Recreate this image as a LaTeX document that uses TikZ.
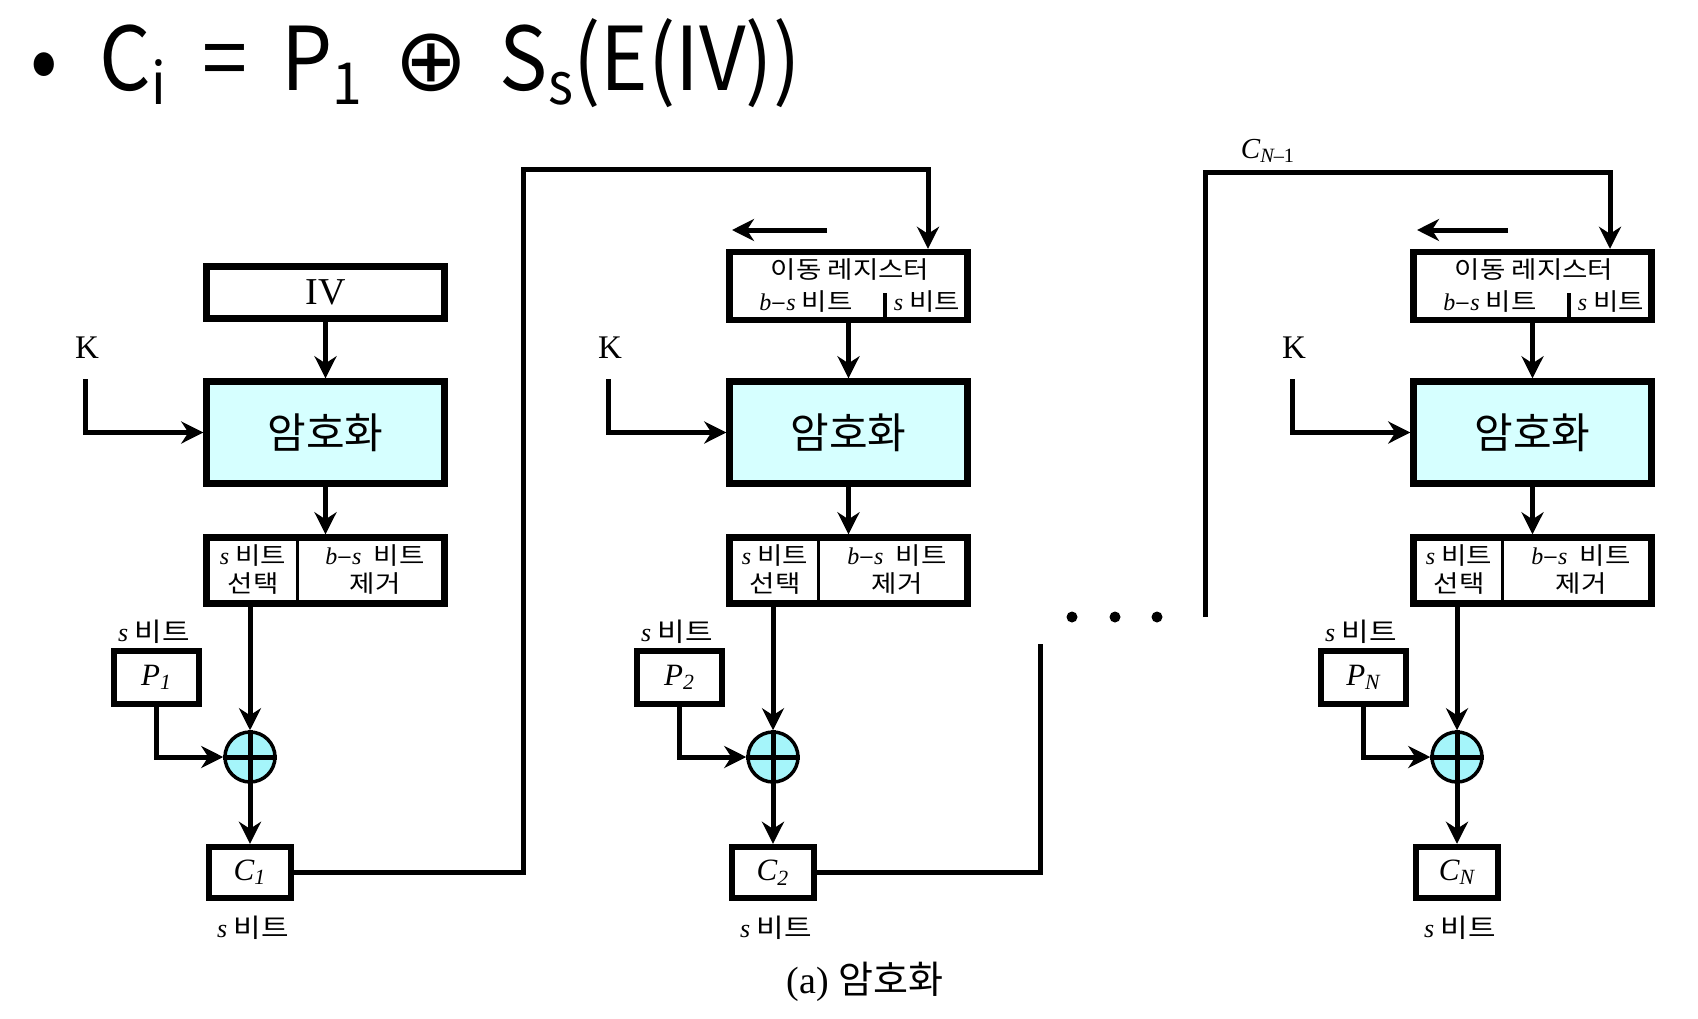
\documentclass[tikz,border=0pt]{standalone}
\usepackage{fontspec}
\setmainfont{Liberation Serif}
\newfontfamily\kr{Noto Sans CJK KR}
\newfontfamily\krwide[FakeStretch=1.15]{Noto Sans CJK KR}
\newfontfamily\titlefont[FakeStretch=0.92]{Noto Sans CJK KR}
\newfontfamily\symfont{DejaVu Sans}
\usetikzlibrary{arrows.meta,positioning}
\definecolor{enccyan}{RGB}{214,255,255}
\definecolor{xorcyan}{RGB}{165,245,250}
\newcommand{\ital}[1]{{\rmfamily\itshape #1}}
\newcommand{\lowsub}[1]{\raisebox{-7pt}{\fontsize{29}{29}\selectfont #1}}

\begin{document}
\begin{tikzpicture}[x=0.5pt, y=-0.5pt,
    box/.style={draw, line width=3.2pt, inner sep=0pt},
    topbox/.style={box, minimum width=119pt, minimum height=26pt, font=\fontsize{19}{19}\selectfont},
    regbox/.style={box, minimum width=119pt, minimum height=34pt},
    encbox/.style={box, fill=enccyan, minimum width=119pt, minimum height=51pt, font=\kr\fontsize{21}{21}\selectfont},
    selbox/.style={box, minimum width=119pt, minimum height=33pt},
    pbox/.style={box, minimum width=42.5pt, minimum height=26.5pt, font=\fontsize{15.5}{15.5}\selectfont},
    cbox/.style={box, minimum width=41pt, minimum height=25.5pt, font=\fontsize{15.5}{15.5}\selectfont},
    xorop/.style={circle, draw, line width=1.75pt, fill=xorcyan, minimum size=25pt, inner sep=0pt},
    small/.style={font=\krwide\fontsize{12}{14}\selectfont, inner sep=0pt, align=center},
    label/.style={font=\krwide\fontsize{13}{13}\selectfont, inner sep=0pt},
    klabel/.style={font=\fontsize{16.5}{16.5}\selectfont, inner sep=0pt},
    wire/.style={line width=2.5pt},
    thinline/.style={line width=1.6pt},
    arr/.style={wire, -{Stealth[length=11pt, width=11pt, inset=3.5pt]}},
    dot/.style={circle, fill, inner sep=0pt, minimum size=5.5pt}]
  \useasboundingbox (0,0) rectangle (1698,1018);

  % title line
  \node[anchor=base west, inner sep=0pt, font=\titlefont\fontsize{44}{44}\selectfont] (title) at (30,90)
    {•\hspace{21pt}C\lowsub{i}\hspace{18pt}=\hspace{17pt}P\lowsub{1}\hspace{16pt}{\symfont ⊕}\hspace{16pt}S\lowsub{s}(E(IV))};

  % first block
  \node[topbox] (iv) at (325.5,292.5) {IV};
  \node[encbox] (enc1) at (325.5,432.5) {암호화};
  \node[selbox] (sel1) at (325.5,570.5) {};
  \node[small] (sl1) at (253,570) {\ital{s} 비트\\선택};
  \node[small] (sr1) at (375,570) {\ital{b}–\ital{s}\ \ 비트\\제거};
  \draw[thinline] ([xshift=47pt]sel1.north west) -- ([xshift=47pt]sel1.south west);
  \node[klabel] (k1) at (87,348) {K};
  \coordinate (kin1) at (85,379);
  \node[label] (ps1) at (154,632) {\ital{s} 비트};
  \node[pbox] (p1) at (156.5,677.5) {\ital{P\textsubscript{1}}};
  \node[xorop] (x1) at (250,757) {};
  \node[cbox] (c1) at (250,872.5) {\ital{C\textsubscript{1}}};
  \node[label] (cs1) at (253,928) {\ital{s} 비트};

  % second block
  \node[regbox] (reg2) at (848.5,286) {};
  \node[small] (rt2) at (850,270) {이동 레지스터};
  \node[small] (rl2) at (806,302) {\ital{b}–\ital{s} 비트};
  \node[small] (rr2) at (927,302) {\ital{s} 비트};
  \draw[thinline] (885,293) -- (885,321);
  \coordinate (sh2a) at (827,230);
  \coordinate (sh2b) at (732,230);
  \node[encbox] (enc2) at (848.5,432.5) {암호화};
  \node[selbox] (sel2) at (848.5,570.5) {};
  \node[small] (sl2) at (775,570) {\ital{s} 비트\\선택};
  \node[small] (sr2) at (897,570) {\ital{b}–\ital{s}\ \ 비트\\제거};
  \draw[thinline] ([xshift=46pt]sel2.north west) -- ([xshift=46pt]sel2.south west);
  \node[klabel] (k2) at (610,348) {K};
  \coordinate (kin2) at (608,379);
  \node[label] (ps2) at (677,632) {\ital{s} 비트};
  \node[pbox] (p2) at (679.5,677.5) {\ital{P\textsubscript{2}}};
  \node[xorop] (x2) at (773,757) {};
  \node[cbox] (c2) at (773,872.5) {\ital{C\textsubscript{2}}};
  \node[label] (cs2) at (776,928) {\ital{s} 비트};

  % last block
  \node[regbox] (reg3) at (1532.5,286) {};
  \node[small] (rt3) at (1534,270) {이동 레지스터};
  \node[small] (rl3) at (1490,302) {\ital{b}–\ital{s} 비트};
  \node[small] (rr3) at (1611,302) {\ital{s} 비트};
  \draw[thinline] (1569,293) -- (1569,321);
  \coordinate (sh3a) at (1508,230);
  \coordinate (sh3b) at (1417,230);
  \node[encbox] (enc3) at (1532.5,432.5) {암호화};
  \node[selbox] (sel3) at (1532.5,570.5) {};
  \node[small] (sl3) at (1459,570) {\ital{s} 비트\\선택};
  \node[small] (sr3) at (1581,570) {\ital{b}–\ital{s}\ \ 비트\\제거};
  \draw[thinline] ([xshift=46pt]sel3.north west) -- ([xshift=46pt]sel3.south west);
  \node[klabel] (k3) at (1294,348) {K};
  \coordinate (kin3) at (1292,379);
  \node[label] (ps3) at (1361,632) {\ital{s} 비트};
  \node[pbox] (p3) at (1363.5,677.5) {\ital{P\textsubscript{N}}};
  \node[xorop] (x3) at (1457,757) {};
  \node[cbox] (c3) at (1457,872.5) {\ital{C\textsubscript{N}}};
  \node[label] (cs3) at (1460,928) {\ital{s} 비트};

  % dots and feedback corners
  \node[dot] (d1) at (1072,617) {};
  \node[dot] (d2) at (1115,617) {};
  \node[dot] (d3) at (1157,617) {};
  \coordinate (up1) at (523,169);
  \coordinate (up2) at (1040,644);
  \coordinate (dn) at (1205,617);
  \coordinate (upn) at (1205,172);
  \node[font=\fontsize{14.5}{14.5}\selectfont, inner sep=0pt] (cn1) at (1268,151) {\ital{C}\textsubscript{\ital{N}–1}};

  % connections
  \draw[arr] (iv) -- (enc1);
  \foreach \i in {1,2,3} {
    \draw[arr] (kin\i) |- (enc\i);
    \draw[arr] (enc\i) -- (sel\i);
    \draw[arr] (sel\i.south -| x\i) -- (x\i);
    \draw[arr] (p\i) |- (x\i);
    \draw[arr] (x\i) -- (c\i);
    \draw[wire] (x\i.north) -- (x\i.south) (x\i.west) -- (x\i.east);
  }
  \foreach \i in {2,3} {
    \draw[arr] (reg\i) -- (enc\i);
    \draw[arr] (sh\i a) -- (sh\i b);
  }
  \draw[arr] (c1) -| (up1) -| ([xshift=39.75pt]reg2.north);
  \draw[wire] (c2) -| (up2);
  \draw[arr] (dn) -- (upn) -| ([xshift=38.75pt]reg3.north);

  \node[font=\fontsize{19}{19}\selectfont, inner sep=0pt] (cap) at (865,982) {(a)\ {\kr 암호화}};
\end{tikzpicture}
\end{document}
